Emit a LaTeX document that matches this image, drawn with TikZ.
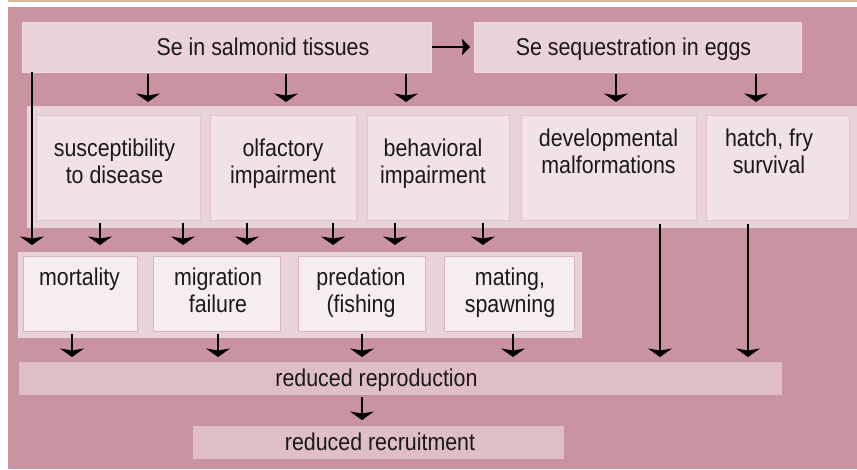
\documentclass[tikz,border=0pt]{standalone}
\usepackage{fontspec}
\setmainfont{Liberation Sans}[FakeStretch=0.88]
\usepackage{tikz}
\usetikzlibrary{arrows.meta}
\definecolor{bgpink}{HTML}{C994A0}
\definecolor{bandpink}{HTML}{E8D3D8}
\definecolor{toppink}{HTML}{E9D3D8}
\definecolor{topline}{HTML}{EDDBDF}
\definecolor{innerpink}{HTML}{F0E2E6}
\definecolor{innerline}{HTML}{E2C6CD}
\definecolor{lowpink}{HTML}{F6EDF0}
\definecolor{lowline}{HTML}{DDB4BE}
\definecolor{redpink}{HTML}{DFBEC5}
\definecolor{tanline}{HTML}{D8B796}

\begin{document}
\begin{tikzpicture}[y=-1pt,x=1pt,
	boxbase/.style={rectangle, inner sep=0pt, outer sep=0pt},
	topbox/.style={boxbase, fill=toppink, draw=topline, line width=0.8pt, minimum height=50pt},
	bandbox/.style={boxbase, fill=bandpink},
	innerbox/.style={boxbase, fill=innerpink, draw=innerline, line width=0.9pt, minimum height=105pt},
	lowbox/.style={boxbase, fill=lowpink, draw=lowline, line width=0.9pt, minimum height=75pt},
	redbox/.style={boxbase, fill=redpink, minimum height=33pt},
	lbl/.style={inner sep=0pt, align=center, anchor=base, text=black!90, font=\fontsize{24.3}{27}\selectfont},
	arr/.style={line width=1.3pt, -{Stealth[width=24pt,length=8.5pt,inset=2pt]}},
	harr/.style={line width=1.3pt, -{Stealth[width=16pt,length=8pt,inset=1pt]}}
]
	\useasboundingbox (0,0) rectangle (857,469);
	\fill[tanline] (8,0) rectangle (857,1.5);
	\fill[bgpink] (8,7) rectangle (857,469);

	\node[topbox, minimum width=409pt] (tissues) at (226.5,47) {};
	\node[topbox, minimum width=327pt] (eggs) at (637.5,47) {};
	\node[lbl] (tissuesT) at (263,55) {Se in salmonid tissues};
	\node[lbl] (eggsT) at (633.5,55) {Se sequestration in eggs};

	\node[bandbox, minimum width=830pt, minimum height=122pt] (band) at (442,167) {};
	\node[innerbox, minimum width=164pt] (susc) at (118,167.5) {};
	\node[innerbox, minimum width=146pt] (olf) at (283,167.5) {};
	\node[innerbox, minimum width=142pt] (beh) at (438,167.5) {};
	\node[innerbox, minimum width=175pt] (devel) at (608.5,167.5) {};
	\node[innerbox, minimum width=143pt] (hatch) at (777.5,167.5) {};
	\node[lbl] (suscT) at (114.5,183) {susceptibility\\to disease};
	\node[lbl] (olfT) at (283,183) {olfactory\\impairment};
	\node[lbl] (behT) at (433,183) {behavioral\\impairment};
	\node[lbl] (develT) at (608.5,173) {developmental\\malformations};
	\node[lbl] (hatchT) at (769,173) {hatch, fry\\survival};

	\node[bandbox, minimum width=564pt, minimum height=86pt] (lowband) at (300,295) {};
	\node[lowbox, minimum width=114pt] (mort) at (80,293.5) {};
	\node[lowbox, minimum width=127pt] (migr) at (216.5,293.5) {};
	\node[lowbox, minimum width=127pt] (pred) at (361.5,293.5) {};
	\node[lowbox, minimum width=130pt] (mate) at (509,293.5) {};
	\node[lbl] (mortT) at (79.5,285) {mortality};
	\node[lbl] (migrT) at (218,312) {migration\\failure};
	\node[lbl] (predT) at (361,312) {predation\\(fishing};
	\node[lbl] (mateT) at (510,312) {mating,\\spawning};

	\node[redbox, minimum width=763pt] (repro) at (400.5,378.5) {};
	\node[redbox, minimum width=371pt] (recruit) at (378.5,442.5) {};
	\node[lbl] (reproT) at (376.5,386) {reduced reproduction};
	\node[lbl] (recruitT) at (380,450) {reduced recruitment};

	\draw[harr, shorten <=1pt, shorten >=4pt] (tissues.east) -- (eggs.west);
	\foreach \x/\from in {148/tissues,286/tissues,406/tissues,616/eggs,756/eggs}
		\draw[arr, shorten <=2pt, shorten >=4pt] (\x,0 |- \from.south) -- (\x,0 |- band.north);
	\draw[arr, shorten >=7pt] (32,0 |- tissues.south) -- (32,0 |- lowband.north);
	\foreach \x/\from in {100/susc,183/susc,247/olf,333/olf,395/beh,483/beh}
		\draw[arr, shorten <=3pt, shorten >=7pt] (\x,0 |- \from.south) -- (\x,0 |- lowband.north);
	\foreach \x/\from in {72/mort,218/migr,362/pred,513/mate}
		\draw[arr, shorten <=3pt, shorten >=5pt] (\x,0 |- \from.south) -- (\x,0 |- repro.north);
	\foreach \x/\from in {660/devel,748/hatch}
		\draw[arr, shorten <=4pt, shorten >=5pt] (\x,0 |- \from.south) -- (\x,0 |- repro.north);
	\draw[arr, shorten <=2pt, shorten >=6pt] (362,0 |- repro.south) -- (362,0 |- recruit.north);
\end{tikzpicture}
\end{document}
